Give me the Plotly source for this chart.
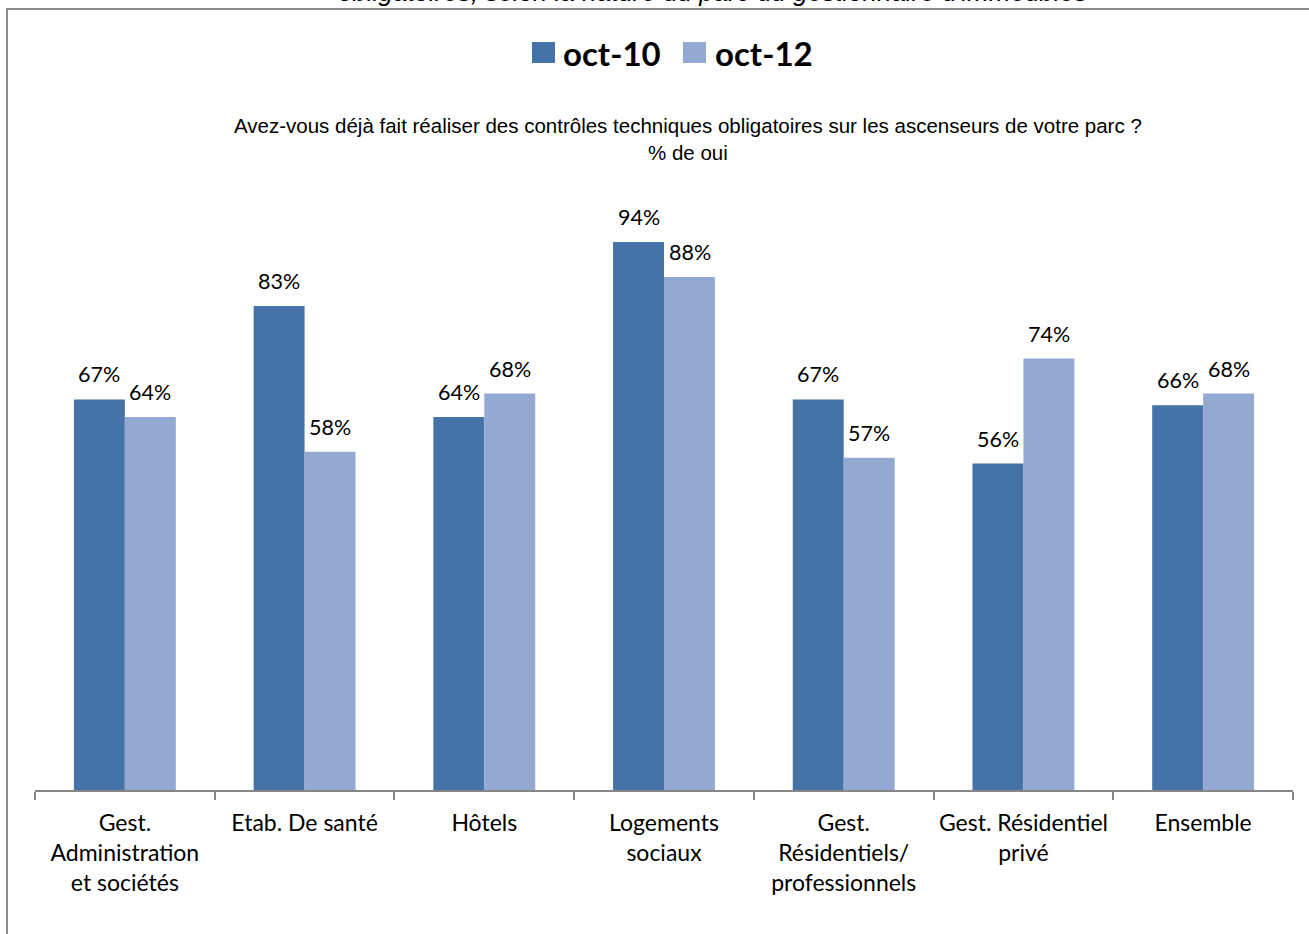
import plotly.graph_objects as go

categories = ["Gest.<br>Administration<br>et sociétés", "Etab. De santé", "Hôtels",
              "Logements<br>sociaux", "Gest.<br>Résidentiels/<br>professionnels",
              "Gest. Résidentiel<br>privé", "Ensemble"]
oct10 = [67, 83, 64, 94, 67, 56, 66]
oct12 = [64, 58, 68, 88, 57, 74, 68]
series_names = ["oct-10", "oct-12"]
colors = ["#4573A7", "#94A9D1"]
subtitle_lines = ["Avez-vous déjà fait réaliser des contrôles techniques obligatoires sur les ascenseurs de votre parc ?",
                  "% de oui"]

W, H = 1309, 934
L, R, T, B = 35, 16, 207, 144
pw, ph = W - L - R, H - T - B

def px(x):
    return (x - L) / pw

def py(y):
    return (H - B - y) / ph

fig = go.Figure()
for name, vals, col in zip(series_names, [oct10, oct12], colors):
    fig.add_trace(go.Bar(x=categories, y=vals, name=name, marker_color=col,
                         marker_line_width=0, showlegend=False))

annotations = []
for vals, shift in [(oct10, -25.5), (oct12, 25.5)]:
    for c, v in zip(categories, vals):
        annotations.append(dict(x=c, y=v, xref="x", yref="y", text=f"{v}%",
                                showarrow=False, xshift=shift, yshift=10,
                                yanchor="bottom",
                                font=dict(family="Lato", size=21.5, color="#000")))

# subtitle
annotations.append(dict(x=px(688), y=py(139), xref="paper", yref="paper",
                        text="<br>".join(subtitle_lines), showarrow=False,
                        xanchor="center", yanchor="middle",
                        font=dict(family="Liberation Sans", size=20.5, color="#000")))
# cut-off top title
annotations.append(dict(x=px(712), y=py(9), xref="paper", yref="paper",
                        text="<i>obligatoires, selon la nature du parc du gestionnaire d'immeubles</i>",
                        showarrow=False, xanchor="center", yanchor="bottom",
                        font=dict(family="Liberation Sans", size=26, color="#000")))

# legend (manual)
shapes = []
leg = [(532, 555, 561), (683, 706, 713)]
for (x0, x1, tx), name, col in zip(leg, series_names, colors):
    shapes.append(dict(type="rect", xref="paper", yref="paper",
                       x0=px(x0), x1=px(x1), y0=py(63), y1=py(42),
                       fillcolor=col, line_width=0))
    annotations.append(dict(x=px(tx), y=py(53), xref="paper", yref="paper",
                            text=f"<b>{name}</b>", showarrow=False,
                            xanchor="left", yanchor="middle",
                            font=dict(family="Lato", size=33, color="#000")))

# outer border
shapes.append(dict(type="rect", xref="paper", yref="paper",
                   x0=px(7), x1=px(1330), y0=py(960), y1=py(9),
                   line=dict(color="#8C8C8C", width=2), fillcolor="rgba(0,0,0,0)"))

fig.update_layout(
    width=W, height=H,
    margin=dict(l=L, r=R, t=T, b=B),
    paper_bgcolor="white", plot_bgcolor="white",
    barmode="group", bargap=0.433, bargroupgap=0,
    annotations=annotations, shapes=shapes,
    xaxis=dict(showline=True, linecolor="#868686", linewidth=1.5,
               ticks="outside", tickson="boundaries", ticklen=8,
               tickcolor="#868686", tickwidth=1.5, showgrid=False,
               ticklabelstandoff=12,
               tickfont=dict(family="Lato", size=23, color="#000")),
    yaxis=dict(range=[0, 100], visible=False, showgrid=False, zeroline=False),
    showlegend=False,
)

fig.write_html("out.html")
